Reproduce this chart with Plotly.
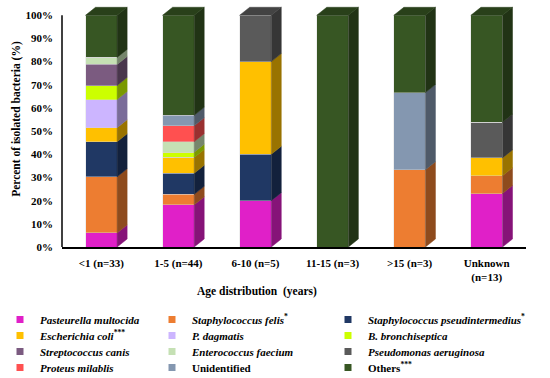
import plotly.graph_objects as go

categories = ["<1 (n=33)", "1-5 (n=44)", "6-10 (n=5)", "11-15 (n=3)", ">15 (n=3)", "Unknown<br>(n=13)"]
species = [
    "<b><i>Pasteurella multocida</i></b>",
    "<b><i>Staphylococcus felis</i><sup>*</sup></b>",
    "<b><i>Staphylococcus pseudintermedius</i><sup>*</sup></b>",
    "<b><i>Escherichia coli</i><sup>***</sup></b>",
    "<b><i>P. dagmatis</i></b>",
    "<b><i>B. bronchiseptica</i></b>",
    "<b><i>Streptococcus canis</i></b>",
    "<b><i>Enterococcus faecium</i></b>",
    "<b><i>Pseudomonas aeruginosa</i></b>",
    "<b><i>Proteus milablis</i></b>",
    "<b>Unidentified</b>",
    "<b>Others<sup>***</sup></b>",
]
pasteurella = [6.06, 18.18, 20.0, 0, 0, 23.08]
staph_felis = [24.24, 4.55, 0, 0, 33.33, 7.69]
staph_pseud = [15.15, 9.09, 20.0, 0, 0, 0]
e_coli = [6.06, 6.82, 40.0, 0, 0, 7.69]
p_dagmatis = [12.12, 0, 0, 0, 0, 0]
b_bronch = [6.06, 2.27, 0, 0, 0, 0]
strep_canis = [9.09, 0, 0, 0, 0, 0]
enterococcus = [3.03, 4.55, 0, 0, 0, 0]
pseudomonas = [0, 0, 20.0, 0, 0, 15.38]
proteus = [0, 6.82, 0, 0, 0, 0]
unidentified = [0, 4.55, 0, 0, 33.33, 0]
others = [18.18, 43.18, 0, 100.0, 33.33, 46.15]
series = [pasteurella, staph_felis, staph_pseud, e_coli, p_dagmatis, b_bronch,
          strep_canis, enterococcus, pseudomonas, proteus, unidentified, others]
colors = ["#E020C8", "#ED7D31", "#203864", "#FFC000", "#CCB5FF", "#CCFF00",
          "#7B5B80", "#C5E0B4", "#5A5A5A", "#FF5050", "#8497B0", "#375623"]
yticks = [0, 10, 20, 30, 40, 50, 60, 70, 80, 90, 100]

BW = 0.41   # bar width (category units)
DX = 0.13   # depth in x
DY = 3.45   # depth in y (percent)
FONT = "Liberation Serif, Times New Roman, DejaVu Serif, serif"
L, R, T, B, W, H = 62, 24, 6, 130.7, 550, 378


def shade(hexcol, f):
    h = hexcol.lstrip("#")
    r, g, b = int(h[0:2], 16), int(h[2:4], 16), int(h[4:6], 16)
    return "rgb(%d,%d,%d)" % (r * f, g * f, b * f)


xs = list(range(len(categories)))
fig = go.Figure()

# front faces
for name, vals, col in zip(species, series, colors):
    fig.add_trace(go.Bar(x=xs, y=vals, width=BW,
                         marker=dict(color=col, line=dict(width=0.5, color="rgba(215,215,215,0.8)")),
                         showlegend=False, hoverinfo="skip"))

# side and top faces
base = [0.0] * len(xs)
tops = [None] * len(xs)
for name, vals, col in zip(species, series, colors):
    px, py = [], []
    for i, v in enumerate(vals):
        if v <= 0:
            continue
        y0, y1 = base[i], base[i] + v
        xr = xs[i] + BW / 2
        px += [xr, xr + DX, xr + DX, xr, xr, None]
        py += [y0, y0 + DY, y1 + DY, y1, y0, None]
        base[i] = y1
        tops[i] = col
    if px:
        fig.add_trace(go.Scatter(x=px, y=py, mode="lines", line=dict(width=0.5, color=shade(col, 0.6)),
                                 fill="toself", fillcolor=shade(col, 0.6), showlegend=False, hoverinfo="skip"))
for i, col in enumerate(tops):
    xl, xr, yt = xs[i] - BW / 2, xs[i] + BW / 2, base[i]
    fig.add_trace(go.Scatter(x=[xl, xl + DX, xr + DX, xr, xl], y=[yt, yt + DY, yt + DY, yt, yt], mode="lines",
                             line=dict(width=0.5, color=shade(col, 0.75)), fill="toself",
                             fillcolor=shade(col, 0.75), showlegend=False, hoverinfo="skip"))

# legend: one small legend per entry, laid out in a 3-column grid (x = left edge of entry, px)
col_left = [0, 152, 328]
row_y = [319.5, 335.5, 351.5, 367.5]
legend_cfg = {}
for k, (name, col) in enumerate(zip(species, colors)):
    lid = "legend" if k == 0 else "legend%d" % (k + 1)
    fig.add_trace(go.Scatter(x=[None], y=[None], mode="markers", name=name, legend=lid,
                             marker=dict(symbol="square", size=7, color=col), hoverinfo="skip"))
    r, c = k // 3, k % 3
    legend_cfg[lid] = dict(orientation="h", xref="paper", yref="container",
                           x=(col_left[c] - L) / (W - L - R), y=1 - row_y[r] / H,
                           xanchor="left", yanchor="middle",
                           font=dict(size=11, family=FONT), bgcolor="rgba(0,0,0,0)")

fig.update_layout(
    width=W, height=H,
    margin=dict(l=L, r=R, t=T, b=B),
    paper_bgcolor="white", plot_bgcolor="white",
    font=dict(family=FONT, size=11, color="black"),
    barmode="stack",
    xaxis=dict(range=[-0.51, 5.51], tickvals=xs, ticktext=["<b>%s</b>" % c for c in categories],
               showline=True, linecolor="black", linewidth=1.5, showgrid=False, zeroline=False,
               ticks="", ticklabelstandoff=5, tickfont=dict(size=11, family=FONT), automargin=False),
    yaxis=dict(range=[0, 104], tickvals=yticks, ticktext=["<b>%d%%</b>" % t for t in yticks],
               showline=False, showgrid=False, zeroline=False, ticks="", ticklabelstandoff=8,
               tickfont=dict(size=11, family=FONT), automargin=False),
    shapes=[dict(type="line", xref="paper", yref="y", x0=0, x1=0, y0=0, y1=100,
                 line=dict(color="black", width=1.5))],
    annotations=[
        dict(text="<b>Percent of isolated bacteria (%)</b>", textangle=-90, xref="paper", yref="paper",
             x=(17 - L) / (W - L - R), y=(247.3 - 119) / 241.3, showarrow=False,
             font=dict(size=11.5, family=FONT), xanchor="center", yanchor="middle"),
        dict(text="<b>Age distribution  (years)</b>", xref="paper", yref="paper",
             x=(257 - L) / (W - L - R), y=(247.3 - 292) / 241.3, showarrow=False,
             font=dict(size=11.5, family=FONT), xanchor="center", yanchor="middle"),
    ],
    **legend_cfg,
)

fig.write_html("out.html", config={"displayModeBar": False},
               post_script="document.body.style.margin='0';document.body.style.overflow='hidden';")
